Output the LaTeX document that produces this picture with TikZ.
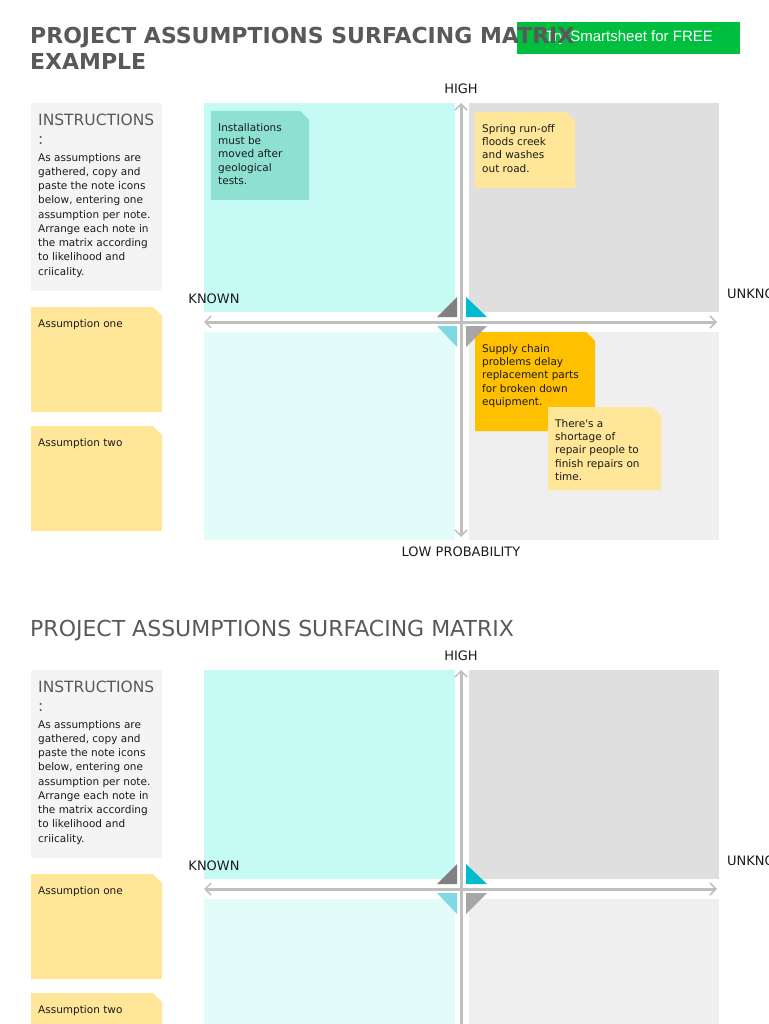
\documentclass[tikz,border=0pt]{standalone}
\usepackage{fontspec}
\setmainfont{DejaVu Sans}
\newfontfamily\btnfont{Liberation Sans}
\usetikzlibrary{arrows.meta}
\definecolor{titlegray}{HTML}{595959}
\definecolor{btngreen}{HTML}{00BF3F}
\definecolor{instrgray}{HTML}{F4F4F4}
\definecolor{noteyellow}{HTML}{FFE699}
\definecolor{noteamber}{HTML}{FFC000}
\definecolor{noteteal}{HTML}{8EE0D3}
\definecolor{qknownhi}{HTML}{C6FAF5}
\definecolor{qknownlo}{HTML}{E2FCF9}
\definecolor{qunknhi}{HTML}{DFDFDF}
\definecolor{qunknlo}{HTML}{EFEFEF}
\definecolor{axisgray}{HTML}{BFBFBF}
\definecolor{tridark}{HTML}{808080}
\definecolor{tricyan}{HTML}{00BCD0}
\definecolor{trilight}{HTML}{80D8E2}
\definecolor{trimid}{HTML}{A6A6A6}
\definecolor{inktext}{HTML}{1A1A1A}
\tikzset{
  notetext/.style={anchor=north west,inner sep=0pt,align=left,text=inktext,font=\fontsize{10.5}{13.3}\selectfont},
  axislabel/.style={inner sep=0pt,text=inktext,font=\fontsize{13}{15}\selectfont},
  axisline/.style={axisgray,line width=3pt,{Straight Barb[length=6pt,width=12pt,line width=1.5pt]}-{Straight Barb[length=6pt,width=12pt,line width=1.5pt]}}
}
\newcommand{\stickynote}[7]{\fill[#5] (#1,#2)--(#1+#3-9,#2)--(#1+#3,#2+9)--(#1+#3,#2+#4)--(#1,#2+#4)--cycle;\node[notetext] (#6) at (#1+7,#2+12) {#7};}
\newcommand{\assumpanel}[1]{%
\fill[instrgray] (31,103) rectangle (162,291);
\node[anchor=north west,inner sep=0pt,align=left,text=titlegray,font=\fontsize{15.5}{19}\selectfont] (instr) at (38,114) {INSTRUCTIONS\\:};
\node[notetext,font=\fontsize{10.5}{14.25}\selectfont] (instrbody) at (38,153) {As assumptions are\\gathered, copy and\\paste the note icons\\below, entering one\\assumption per note.\\Arrange each note in\\the matrix according\\to likelihood and\\criicality.};
\stickynote{31}{307}{131}{105}{noteyellow}{aone}{Assumption one}
\stickynote{31}{426}{131}{105}{noteyellow}{atwo}{Assumption two}
\fill[qknownhi] (204,103) rectangle (455,312);\fill[qunknhi] (469,103) rectangle (719,312);
\fill[qknownlo] (204,332) rectangle (455,540);\fill[qunknlo] (469,332) rectangle (719,540);
#1
\fill[tridark] (437,317)--(457,317)--(457,297)--cycle;\fill[tricyan] (466,297)--(466,317)--(487,317)--cycle;
\fill[trilight] (437,326)--(457,326)--(457,347)--cycle;\fill[trimid] (466,326)--(487,326)--(466,347)--cycle;
\coordinate (ytop) at (461,103);\coordinate (ybot) at (461,537);\coordinate (xl) at (204,322);\coordinate (xr) at (717,322);
\draw[axisline] (xl)--(xr);\draw[axisline] (ybot)--(ytop);
\node[axislabel] (high) at (461,89) {HIGH};
\node[axislabel] (known) at (214,299) {KNOWN};
\node[axislabel,anchor=west] (unknown) at (727,294) {UNKNOWN};
}

\begin{document}
\begin{tikzpicture}[x=1pt,y=-1pt]
\useasboundingbox (0,0) rectangle (768,1024);
\clip (0,0) rectangle (768,1024);
\fill[btngreen] (517,22) rectangle (740,54);
\node[text=white,font=\btnfont\fontsize{15}{18}\selectfont] (trybtn) at (629,38) {Try Smartsheet for FREE};
\node[anchor=base west,inner sep=0pt,align=left,text=titlegray,font=\bfseries\fontsize{22}{26}\selectfont] (maintitle) at (30,70) {PROJECT ASSUMPTIONS SURFACING MATRIX\\EXAMPLE};
\begin{scope}[name prefix=ex-]
\assumpanel{%
\stickynote{211}{111}{98}{89}{noteteal}{geo}{Installations\\must be\\moved after\\geological\\tests.}
\stickynote{475}{112}{100}{76}{noteyellow}{creek}{Spring run-off\\floods creek\\and washes\\out road.}
\stickynote{475}{332}{120}{99}{noteamber}{supply}{Supply chain\\problems delay\\replacement parts\\for broken down\\equipment.}
\stickynote{548}{407}{113}{83}{noteyellow}{repair}{There\textquotesingle s a\\shortage of\\repair people to\\finish repairs on\\time.}}
\node[axislabel] (low) at (461,552) {LOW PROBABILITY};
\end{scope}
\node[anchor=base west,inner sep=0pt,text=titlegray,font=\fontsize{22}{26}\selectfont] (blanktitle) at (30,636) {PROJECT ASSUMPTIONS SURFACING MATRIX};
\begin{scope}[shift={(0,567)},name prefix=bl-]
\assumpanel{}
\end{scope}
\end{tikzpicture}
\end{document}
